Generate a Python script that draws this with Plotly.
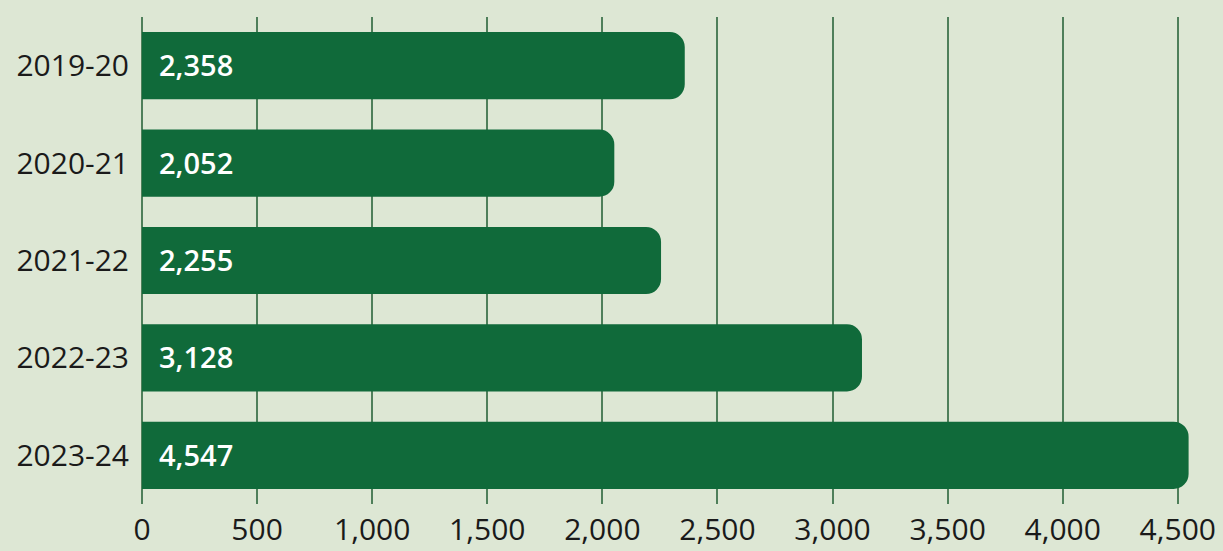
import plotly.graph_objects as go

years = ["2019-20", "2020-21", "2021-22", "2022-23", "2023-24"]
values = [2358, 2052, 2255, 3128, 4547]
tick_vals = [0, 500, 1000, 1500, 2000, 2500, 3000, 3500, 4000, 4500]
tick_text = ["0", "500", "1,000", "1,500", "2,000", "2,500", "3,000", "3,500", "4,000", "4,500"]

bg = "#dde7d4"
bar_color = "#106a3a"
grid_color = "#4f7f5a"

fig = go.Figure(go.Bar(
    x=values, y=years, orientation="h",
    marker=dict(color=bar_color, cornerradius=15, line=dict(width=0)),
    hoverinfo="skip",
))

for yr, v in zip(years, values):
    fig.add_annotation(
        x=0, y=yr, xref="x", yref="y", text=f"{v:,}", showarrow=False,
        xanchor="left", yanchor="middle", xshift=15, yshift=1,
        font=dict(color="white", size=29, family="Open Sans", weight=600),
    )

fig.update_layout(
    width=1223, height=551,
    margin=dict(l=142, r=13, t=17, b=47),
    paper_bgcolor=bg, plot_bgcolor=bg,
    bargap=0.31,
    showlegend=False,
    font=dict(family="Open Sans", color="#1a1a1a"),
    xaxis=dict(
        range=[0, 4640], tickvals=tick_vals, ticktext=tick_text,
        showgrid=True, gridcolor=grid_color, gridwidth=1.5,
        zeroline=True, zerolinecolor=grid_color, zerolinewidth=1.5,
        showline=False, ticks="", tickfont=dict(size=30, color="#1a1a1a"),
        ticklabelstandoff=5, automargin=False,
        fixedrange=True,
    ),
    yaxis=dict(
        autorange="reversed", showgrid=False, showline=False, ticks="",
        tickfont=dict(size=30, color="#1a1a1a"), ticklabelstandoff=12,
        automargin=False,
        fixedrange=True,
    ),
)

fig.write_html("out.html")
